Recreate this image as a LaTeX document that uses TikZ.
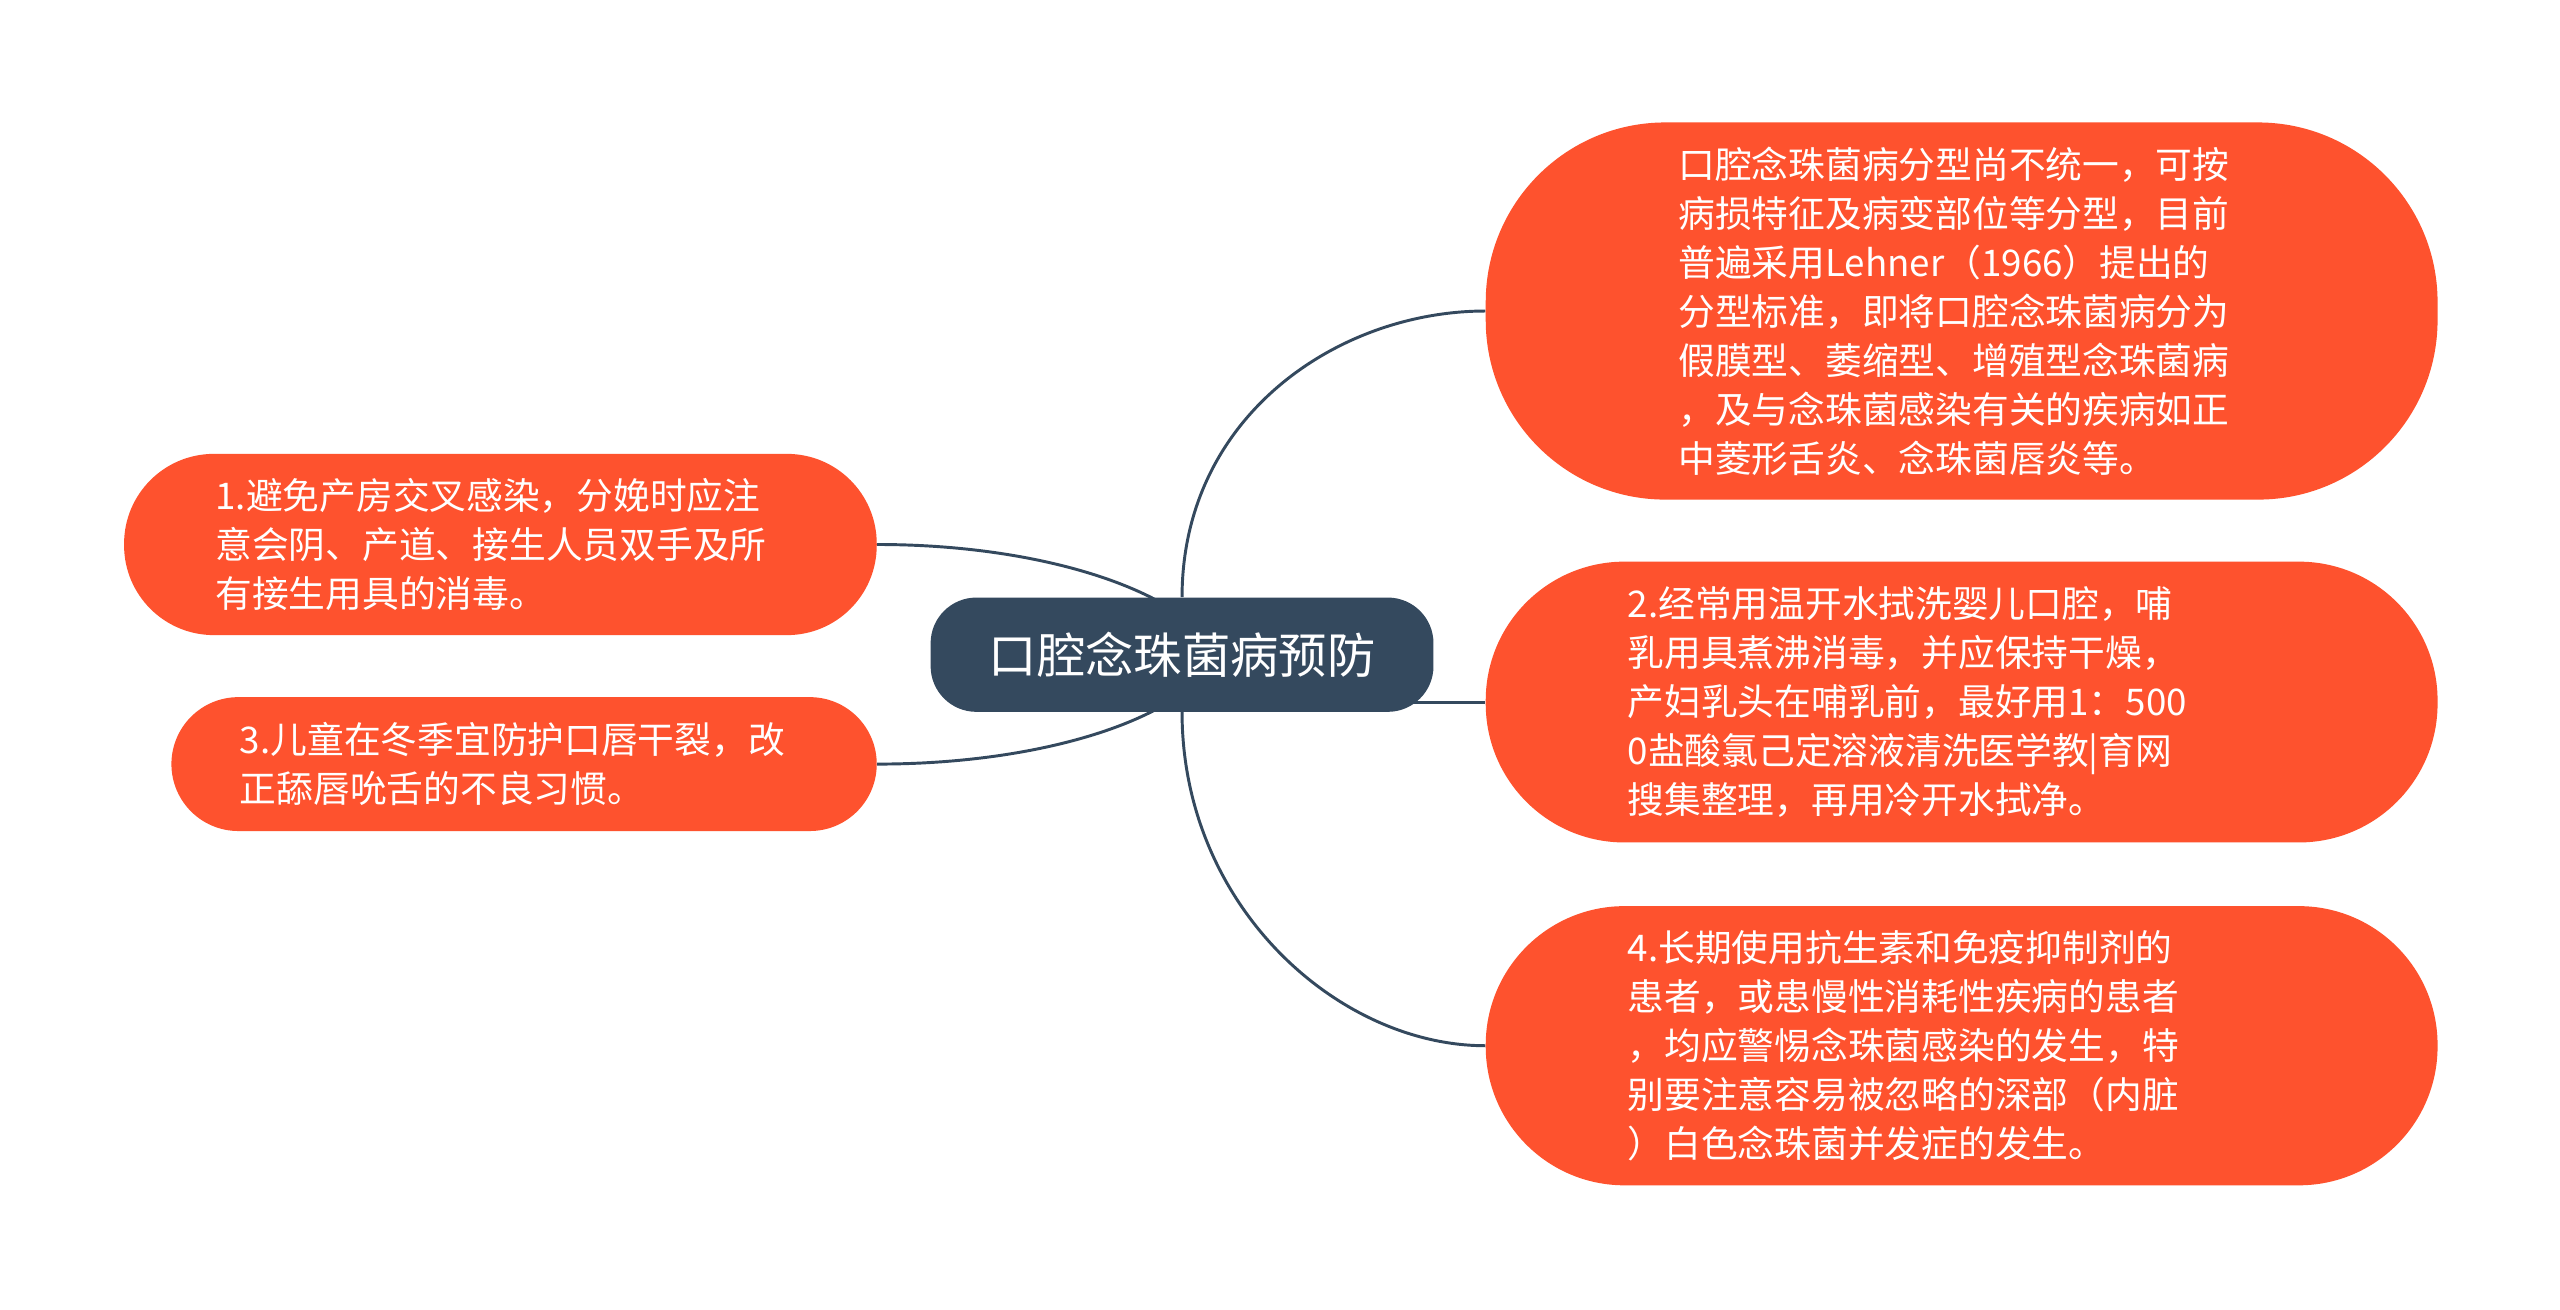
\documentclass[tikz,border=0pt]{standalone}
\usepackage{fontspec}
\newfontfamily\cjk{Noto Sans CJK SC}
\usetikzlibrary{backgrounds}
\definecolor{topicdark}{RGB}{52,73,94}
\definecolor{suborange}{RGB}{254,82,46}

\begin{document}
\begin{tikzpicture}[x=1bp,y=-1bp,
        root/.style={fill=topicdark,text=white,rounded corners=28bp,minimum width=308bp,minimum height=70bp,inner sep=0pt,font=\cjk\fontsize{29.6bp}{36bp}\selectfont},
        sub/.style={fill=suborange,text=white,align=left,inner ysep=0pt,font=\cjk\fontsize{22.5bp}{30bp}\selectfont},
        link/.style={draw=topicdark,line width=1.8bp}]
        \useasboundingbox (0,0) rectangle (1568,802);
        \node[root] (root) at (724,401) {口腔念珠菌病预防};
        \node[sub,rounded corners=110bp,minimum height=231bp,inner xsep=118bp,text width=347bp] (classify) at (1201.5,190.5) {口腔念珠菌病分型尚不统一，可按\\病损特征及病变部位等分型，目前\\普遍采用Lehner（1966）提出的\\分型标准，即将口腔念珠菌病分为\\假膜型、萎缩型、增殖型念珠菌病\\，及与念珠菌感染有关的疾病如正\\中菱形舌炎、念珠菌唇炎等。};
        \node[sub,rounded corners=85bp,minimum height=172bp,inner xsep=87bp,text width=409bp] (infant) at (1201.5,430) {2.经常用温开水拭洗婴儿口腔，哺\\乳用具煮沸消毒，并应保持干燥，\\产妇乳头在哺乳前，最好用1：500\\0盐酸氯己定溶液清洗医学教|育网\\搜集整理，再用冷开水拭净。};
        \node[sub,rounded corners=85bp,minimum height=171bp,inner xsep=87bp,text width=409bp] (drug) at (1201.5,640.5) {4.长期使用抗生素和免疫抑制剂的\\患者，或患慢性消耗性疾病的患者\\，均应警惕念珠菌感染的发生，特\\别要注意容易被忽略的深部（内脏\\）白色念珠菌并发症的发生。};
        \node[sub,rounded corners=55bp,minimum height=111bp,inner xsep=56bp,text width=349bp] (ward) at (306.5,333.5) {1.避免产房交叉感染，分娩时应注\\意会阴、产道、接生人员双手及所\\有接生用具的消毒。};
        \node[sub,rounded corners=41bp,minimum height=82bp,inner xsep=42bp,text width=348bp] (child) at (321,468) {3.儿童在冬季宜防护口唇干裂，改\\正舔唇吮舌的不良习惯。};
        % connectors behind the boxes
        \begin{scope}[on background layer]
            \fill[white] (0,0) rectangle (1568,802);
            \draw[link] (root.north) .. controls +(0,-111) and +(-90,0) .. (classify.west);
            \draw[link] (root.center |- infant.west) -- (infant.west);
            \draw[link] (root.south) .. controls +(0,119) and +(-90,0) .. (drug.west);
            \draw[link] ([shift={(-8,-29)}]root.center) .. controls +(-36,-22) and +(78,0) .. (ward.east);
            \draw[link] ([shift={(-8,29)}]root.center) .. controls +(-36,22) and +(78,0) .. (child.east);
        \end{scope}
    \end{tikzpicture}
\end{document}
